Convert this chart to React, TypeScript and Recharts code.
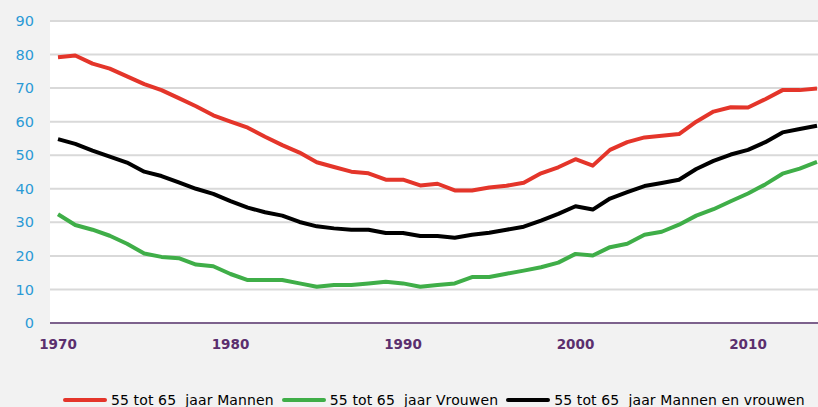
import React from "react";
import {
  LineChart,
  Line,
  XAxis,
  YAxis,
  CartesianGrid,
} from "recharts";

const years = [
  1970, 1971, 1972, 1973, 1974, 1975, 1976, 1977, 1978, 1979,
  1980, 1981, 1982, 1983, 1984, 1985, 1986, 1987, 1988, 1989,
  1990, 1991, 1992, 1993, 1994, 1995, 1996, 1997, 1998, 1999,
  2000, 2001, 2002, 2003, 2004, 2005, 2006, 2007, 2008, 2009,
  2010, 2011, 2012, 2013, 2014,
];

const mannen = [
  79.2, 79.7, 77.3, 75.8, 73.5, 71.2, 69.4, 67.0, 64.6, 61.9,
  60.0, 58.2, 55.5, 53.0, 50.8, 47.9, 46.5, 45.1, 44.6, 42.7,
  42.7, 41.0, 41.5, 39.5, 39.5, 40.4, 40.9, 41.8, 44.6, 46.4,
  48.8, 46.9, 51.6, 53.9, 55.3, 55.8, 56.3, 60.0, 63.0, 64.3,
  64.2, 66.7, 69.4, 69.4, 69.9,
];

const vrouwen = [
  32.4, 29.2, 27.8, 26.0, 23.6, 20.7, 19.7, 19.3, 17.4, 16.9,
  14.6, 12.8, 12.8, 12.8, 11.8, 10.8, 11.3, 11.3, 11.8, 12.3,
  11.8, 10.8, 11.3, 11.8, 13.7, 13.7, 14.7, 15.6, 16.6, 18.0,
  20.6, 20.1, 22.6, 23.6, 26.3, 27.2, 29.3, 32.0, 33.9, 36.3,
  38.6, 41.3, 44.5, 46.0, 48.0,
];

const totaal = [
  54.8, 53.4, 51.4, 49.6, 47.8, 45.1, 43.8, 41.9, 40.0, 38.5,
  36.3, 34.4, 33.0, 32.0, 30.1, 28.8, 28.2, 27.8, 27.8, 26.8,
  26.8, 25.9, 25.9, 25.4, 26.3, 26.9, 27.8, 28.7, 30.5, 32.5,
  34.8, 33.8, 37.1, 39.0, 40.8, 41.7, 42.7, 45.9, 48.3, 50.2,
  51.6, 53.9, 56.8, 57.8, 58.8,
];

const yTicks = [0, 10, 20, 30, 40, 50, 60, 70, 80, 90];

const series = [
  { key: "mannen", name: "55 tot 65  jaar Mannen", color: "#e4352a" },
  { key: "vrouwen", name: "55 tot 65  jaar Vrouwen", color: "#3fae48" },
  { key: "totaal", name: "55 tot 65  jaar Mannen en vrouwen", color: "#000000" },
];

const data = years.map((year, i) => ({
  year,
  mannen: mannen[i],
  vrouwen: vrouwen[i],
  totaal: totaal[i],
}));

const FONT = "'DejaVu Sans', Verdana, sans-serif";

export default function App() {
  return (
    <div
      style={{
        position: "fixed",
        left: 0,
        top: 0,
        width: 818,
        height: 407,
        overflow: "hidden",
        background: "#f2f2f2",
        fontFamily: FONT,
      }}
    >
      <LineChart
        width={825}
        height={407}
        data={data}
        margin={{ top: 21, right: 0, bottom: 54, left: 0 }}
      >
        <CartesianGrid
          vertical={false}
          stroke="#d9d9d9"
          strokeWidth={2}
          fill="#ffffff"
          fillOpacity={1}
        />
        <XAxis
          dataKey="year"
          interval={9}
          height={30}
          padding={{ left: 8, right: 8 }}
          axisLine={{ stroke: "#5e3a73", strokeWidth: 1.5 }}
          tickLine={false}
          tickSize={6}
          tickMargin={10}
          tick={{ fill: "#5b2f6e", fontSize: 13.5, fontWeight: 700, fontFamily: FONT }}
        />
        <YAxis
          domain={[0, 90]}
          ticks={yTicks}
          width={50}
          axisLine={false}
          tickLine={false}
          tickSize={6}
          tickMargin={10}
          tick={{ fill: "#2b9ad6", fontSize: 14.5, fontFamily: FONT }}
        />
        {series.map((s) => (
          <Line
            key={s.key}
            dataKey={s.key}
            name={s.name}
            stroke={s.color}
            strokeWidth={4}
            strokeLinejoin="round"
            dot={false}
            activeDot={false}
            isAnimationActive={false}
          />
        ))}
      </LineChart>
      {/* legend sits low, close to the bottom edge like the original */}
      <div
        style={{
          position: "absolute",
          left: 63,
          top: 393,
          display: "flex",
          alignItems: "center",
          gap: 8,
          fontSize: 14,
          letterSpacing: "0.12px",
          lineHeight: "14px",
          color: "#000",
          whiteSpace: "pre",
        }}
      >
        {series.map((s) => (
          <div key={s.key} style={{ display: "flex", alignItems: "center" }}>
            <span
              style={{
                display: "inline-block",
                width: 44,
                height: 4,
                borderRadius: 2,
                background: s.color,
                marginRight: 4,
              }}
            />
            <span>{s.name}</span>
          </div>
        ))}
      </div>
    </div>
  );
}
